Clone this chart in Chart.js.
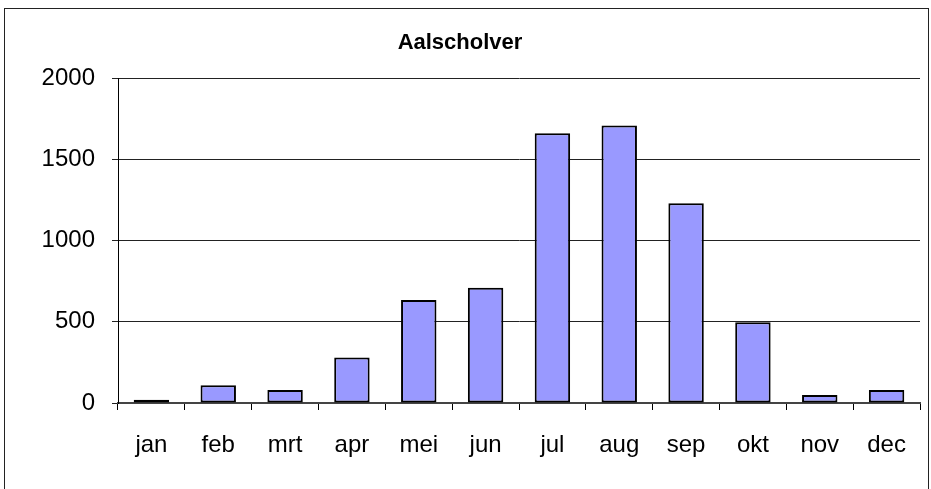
<!DOCTYPE html>
<html lang="nl">
<head>
    <meta charset="UTF-8">
    <title>Aalscholver</title>
    <style>
        html, body { margin: 0; padding: 0; background: #fff; }
        .kader {
            position: absolute; left: 4px; top: 8px;
            width: 925px; height: 490px;
            border: 1px solid #222;
            box-sizing: border-box;
        }
        .grafiek { position: absolute; left: 0; top: 0; width: 931px; height: 489px; }
    </style>
</head>
<body>
    <div class="kader"></div>
    <div class="grafiek">
        <canvas id="grafiek-aalscholver" width="931" height="489"></canvas>
    </div>
</body>
</html>
<script src="https://cdn.jsdelivr.net/npm/chart.js"></script>
<script>
    // maanden en aantallen
    var maanden = ['jan', 'feb', 'mrt', 'apr', 'mei', 'jun', 'jul', 'aug', 'sep', 'okt', 'nov', 'dec'];
    var aantallen = [20, 110, 80, 280, 635, 710, 1662, 1710, 1230, 497, 50, 80];
    var yTicks = [0, 500, 1000, 1500, 2000];

    var lettertype = "'Liberation Sans', Arial, sans-serif";

    var grafiek = new Chart(document.getElementById('grafiek-aalscholver'), {
        type: 'bar',
        data: {
            labels: maanden,
            datasets: [{
                label: 'Aalscholver',
                data: aantallen,
                backgroundColor: '#9999FF',
                borderColor: '#000000',
                borderWidth: 2,
                borderSkipped: false,
                barPercentage: 0.53,
                categoryPercentage: 1.0
            }]
        },
        options: {
            responsive: false,
            animation: false,
            devicePixelRatio: 1,
            layout: {
                padding: { left: 0, right: 11, top: 0, bottom: 0 }
            },
            plugins: {
                legend: { display: false },
                tooltip: { enabled: false },
                title: {
                    display: true,
                    text: 'Aalscholver',
                    color: '#000',
                    font: { family: lettertype, size: 22, weight: 'bold' },
                    padding: { top: 30, bottom: 22 }
                }
            },
            scales: {
                x: {
                    grid: {
                        offset: true,
                        drawOnChartArea: false,
                        drawTicks: true,
                        tickLength: 7,
                        color: '#000'
                    },
                    border: { display: true, color: '#444', width: 2 },
                    ticks: {
                        color: '#000',
                        font: { family: lettertype, size: 24 },
                        padding: 21,
                        maxRotation: 0
                    },
                    afterFit: function (schaal) { schaal.height = 86; }
                },
                y: {
                    min: 0,
                    max: 2000,
                    afterBuildTicks: function (schaal) {
                        schaal.ticks = yTicks.map(function (v) { return { value: v }; });
                    },
                    grid: {
                        color: '#222',
                        lineWidth: 1,
                        drawTicks: true,
                        tickLength: 6
                    },
                    border: { display: true, color: '#000', width: 1 },
                    ticks: {
                        color: '#000',
                        font: { family: lettertype, size: 24 },
                        padding: 17,
                        callback: function (waarde) { return String(waarde); }
                    },
                    afterFit: function (schaal) { schaal.width = 118; }
                }
            }
        }
    });
</script>
